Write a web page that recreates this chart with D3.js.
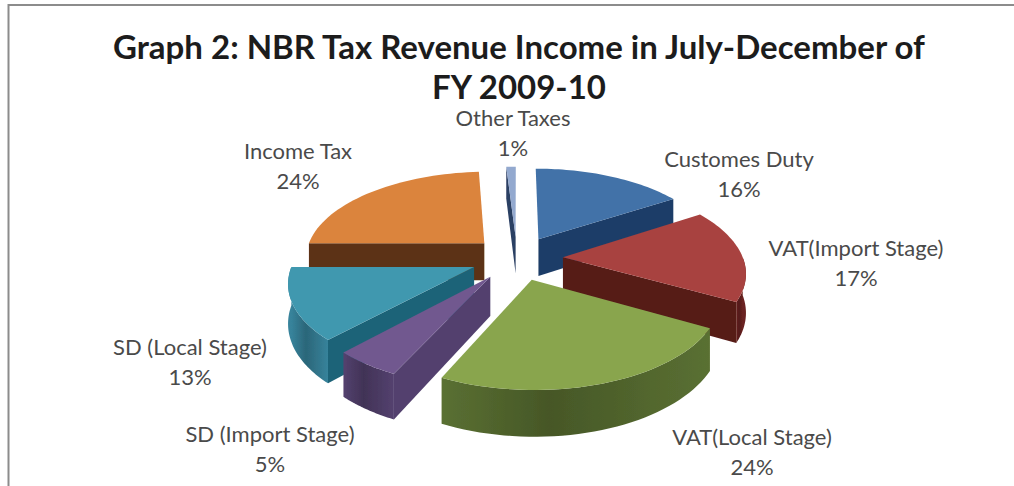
<!DOCTYPE html>
<html>
<head>
<meta charset="utf-8">
<script src="https://cdn.jsdelivr.net/npm/d3@7"></script>
<style>
  html, body { margin: 0; padding: 0; background: #fff; overflow: hidden; }
</style>
</head>
<body>
<script>
const w = 1014;
const h = 486;

const titleLines = ['Graph 2: NBR Tax Revenue Income in July-December of', 'FY 2009-10'];
const categories = ['Customes Duty', 'VAT(Import Stage)', 'VAT(Local Stage)', 'SD (Import Stage)', 'SD (Local Stage)', 'Income Tax', 'Other Taxes'];
const shares = [16, 17, 24, 5, 13, 24, 1];

const topColors = ['#4272a8', '#a8423f', '#89a54e', '#71588f', '#4198af', '#db843d', '#93a9cf'];
const wallColors = ['#1f3e68', '#561a18', '#4d5f2a', '#52406e', '#1f6378', '#5c3212', '#2b3f63'];
const rimColors = ['#2c5078', '#6a2220', '#5a7032', '#54416f', '#37839b', '#7a4418', '#3a5075'];

// label centres, first line y
const labelAt = [[739, 167], [856, 256], [752, 445], [270, 442], [190, 355], [298, 159], [513, 126]];

// projection of the pie plane
const cx = 517;
const cy = 258;
const radius = 180;
const explode = 46;
const tilt = 0.48;
const eye = 1200;
const depth = 38;

const project = (x, y, z = 0) => {
  let f = eye / (eye - y);
  return [cx + x * f, cy + (y * tilt + z) * f];
};

const pie = d3.pie().sort(null).value((d) => d);
const slices = pie(shares).map((d, i) => {
  let mid = (d.startAngle + d.endAngle) / 2;
  return {
    i: i,
    a0: d.startAngle,
    a1: d.endAngle,
    ox: Math.sin(mid) * explode,
    oy: -Math.cos(mid) * explode
  };
});

const rimPoint = (s, a, z) => project(s.ox + Math.sin(a) * radius, s.oy - Math.cos(a) * radius, z);
const apexPoint = (s, z) => project(s.ox, s.oy, z);

const arcPoints = (s, a0, a1, z) => d3.range(0, 41).map((k) => rimPoint(s, a0 + (a1 - a0) * k / 40, z));

const line = d3.line().curve(d3.curveLinear);

const svg = d3.select('body').append('svg')
  .attr('width', w)
  .attr('height', h)
  .style('display', 'block');

const defs = svg.append('defs');
defs.append('filter').attr('id', 'soft')
  .append('feGaussianBlur').attr('stdDeviation', 0.6);

// frame of the screenshot
svg.append('path')
  .attr('d', 'M8.5,486V5H1014')
  .attr('fill', 'none')
  .attr('stroke', '#8c8c8c')
  .attr('stroke-width', 2);

const chart = svg.append('g').attr('filter', 'url(#soft)');

// back to front
const order = slices.slice().sort((p, q) => d3.ascending(p.oy, q.oy));

order.forEach((s) => {
  let g = chart.append('g');
  let color = wallColors[s.i];

  let rimFrom = Math.max(s.a0, Math.PI / 2);
  let rimTo = Math.min(s.a1, Math.PI * 1.5);
  if (rimTo > rimFrom) {
    let gid = 'rim' + s.i;
    let grad = defs.append('linearGradient').attr('id', gid).attr('gradientUnits', 'userSpaceOnUse');
    let p0 = rimPoint(s, rimFrom, 0);
    let p1 = rimPoint(s, rimTo, 0);
    grad.attr('x1', p0[0]).attr('x2', p1[0]).attr('y1', 0).attr('y2', 0);
    grad.append('stop').attr('offset', '0%').attr('stop-color', rimColors[s.i]);
    grad.append('stop').attr('offset', '60%').attr('stop-color', d3.color(rimColors[s.i]).darker(0.7));
    grad.append('stop').attr('offset', '100%').attr('stop-color', rimColors[s.i]);
    let top = arcPoints(s, rimFrom, rimTo, 0);
    let bottom = arcPoints(s, rimTo, rimFrom, depth);
    g.append('path')
      .attr('d', line(top.concat(bottom)) + 'Z')
      .attr('fill', 'url(#' + gid + ')');
  }

  // radial faces, only those turned towards the viewer
  [[s.a0, -1], [s.a1, 1]].forEach(([a, side]) => {
    let normal = a + side * Math.PI / 2;
    if (-Math.cos(normal) <= 0) return;
    let pts = [apexPoint(s, 0), rimPoint(s, a, 0), rimPoint(s, a, depth), apexPoint(s, depth)];
    g.append('path')
      .attr('d', line(pts) + 'Z')
      .attr('fill', color);
  });

  g.append('path')
    .attr('d', line([apexPoint(s, 0)].concat(arcPoints(s, s.a0, s.a1, 0))) + 'Z')
    .attr('fill', topColors[s.i]);
});

// title
svg.selectAll('text.title')
  .data(titleLines)
  .enter()
  .append('text')
  .attr('class', 'title')
  .text((d) => d)
  .attr('x', 519)
  .attr('y', (d, i) => 59 + i * 40)
  .attr('text-anchor', 'middle')
  .attr('font-family', 'Lato')
  .attr('font-weight', 'bold')
  .attr('font-size', 33)
  .attr('fill', '#1c1c1c');

// labels
categories.forEach((name, i) => {
  let t = svg.append('text')
    .attr('text-anchor', 'middle')
    .attr('font-family', 'Lato')
    .attr('font-size', 22)
    .attr('fill', '#4a4a4a');
  t.append('tspan').attr('x', labelAt[i][0]).attr('y', labelAt[i][1]).text(name);
  t.append('tspan').attr('x', labelAt[i][0]).attr('y', labelAt[i][1] + 30).text(shares[i] + '%');
});
</script>
</body>
</html>
